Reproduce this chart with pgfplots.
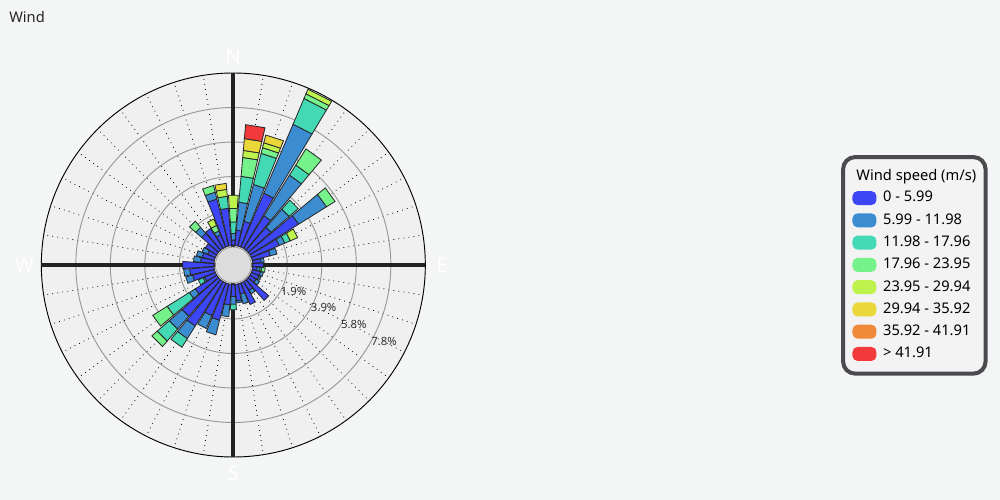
\documentclass[border=0pt]{standalone}
\usepackage{pgfplots}
\pgfplotsset{compat=1.18}
\usepackage{pgfplotstable}
\usepgfplotslibrary{polar}
\usepackage{fontspec}
\setmainfont{Noto Sans}

\definecolor{pagebg}{HTML}{F4F6F5}
\definecolor{disc}{HTML}{F0F0F0}
\definecolor{holefill}{HTML}{DCDCDC}
\definecolor{crossdark}{HTML}{222222}
\definecolor{legborder}{HTML}{4A4A4F}
\definecolor{legfill}{HTML}{F3F3F3}
\definecolor{wc1}{HTML}{3C46F5}
\definecolor{wc2}{HTML}{3C8CD2}
\definecolor{wc3}{HTML}{42D9B4}
\definecolor{wc4}{HTML}{76F28A}
\definecolor{wc5}{HTML}{BEF24C}
\definecolor{wc6}{HTML}{EAD83A}
\definecolor{wc7}{HTML}{F08A3A}
\definecolor{wc8}{HTML}{F23A3C}

% frequency (%) per direction and speed class
\pgfplotstableread{
dir s1 s2 s3 s4 s5 s6 s7 s8
0   0.31 0.38 0.65 0.76 0.75 0 0 0
9   0.88 1.58 1.47 1.07 0.40 0.67 0 0.79
18  1.44 2.15 1.81 0.33 0.29 0.45 0 0
27  3.31 4.23 1.58 0.29 0.28 0 0 0
36  2.18 2.71 0.67 1.08 0 0 0 0
45  1.72 1.36 0.68 0 0 0 0 0
54  3.25 1.86 0 0.57 0 0 0 0
63  1.72 0.34 0.34 0 0.45 0 0 0
72  1.05 0.39 0 0 0 0 0 0
81  0.48 0.17 0 0 0 0 0 0
90  0.59 0 0 0 0 0 0 0
99  0.25 0.17 0.09 0.20 0 0 0 0
108 0.48 0.17 0 0 0 0 0 0
117 0.48 0.11 0 0 0 0 0 0
126 0.42 0.23 0 0 0 0 0 0
135 1.55 0 0 0 0 0 0 0
144 0.59 0.23 0 0 0 0 0 0
153 1.33 0 0 0 0 0 0 0
162 0.59 0.57 0 0 0 0 0 0
171 0.93 0.12 0 0 0 0 0 0
180 0.69 0.43 0.32 0 0 0 0 0
189 1.16 0.68 0 0 0 0 0 0
198 2.12 0.85 0 0 0 0 0 0
207 2.01 0.79 0 0 0 0 0 0
216 2.97 0.84 0.57 0 0 0 0 0
225 2.74 0.96 0.90 0.40 0 0 0 0
234 1.44 0.40 1.47 0.96 0 0 0 0
243 0.65 0.11 0.29 0 0 0 0 0
252 1.27 0.40 0 0 0 0 0 0
261 1.38 0.34 0 0 0 0 0 0
270 1.76 0 0 0 0 0 0 0
279 0.76 0.40 0 0 0 0 0 0
288 0.71 0.34 0 0 0 0 0 0
297 0.48 0.34 0 0 0 0 0 0
306 0.76 0 0 0 0 0 0 0
315 1.27 0.45 0 0.46 0 0 0 0
324 1.33 0 0 0 0 0 0 0
333 0.76 0.23 0 0.34 0.39 0 0 0
342 2.74 0.40 0 0.39 0 0 0 0
351 2.12 0 0.68 0 0.39 0.34 0 0
}\rose

\begin{document}
\begin{tikzpicture}[x=1pt,y=1pt]
\path[use as bounding box, fill=pagebg] (0,0) rectangle (750,375);
\node[anchor=west, inner sep=0pt, font=\fontsize{11}{12}\selectfont, text=black!85] at (6.75,362) {Wind};

\begin{polaraxis}[
  at={(175pt,176.25pt)}, anchor=center,
  width=288pt, height=288pt, scale only axis,
  xmin=0, xmax=360, ymin=0, ymax=10.85,
  clip=false,
  axis background/.style={fill=disc},
  axis line style={black, line width=0.7pt},
  xtick={0,9,...,351}, xticklabels={},
  ytick={3.05,5,6.95,8.9}, yticklabels={},
  major tick length=0pt,
  grid=major,
  x grid style={black, line width=0.6pt, dash pattern=on 0.6pt off 3.2pt},
  y grid style={black!40, line width=0.7pt},
  every axis plot/.append style={mark=none},
  legend image code/.code={\fill[#1, rounded corners=2.6pt] (0pt,-3.75pt) rectangle (15pt,3.75pt);},
  legend cell align=left,
  legend style={at={(2.088,0.781)}, anchor=north west, draw=legborder,
    line width=3pt, rounded corners=9pt, fill=legfill, outer sep=0pt,
    inner xsep=7pt, inner ysep=9.5pt, column sep=5pt, row sep=6.2pt,
    font=\fontsize{11}{12}\selectfont,
    nodes={inner sep=0pt, text height=7.8pt, text depth=2pt}},
]
\addplot[forget plot, line width=3pt, crossdark] coordinates {(90,10.85) (270,10.85)};
\addplot[forget plot, line width=3pt, crossdark] coordinates {(0,10.85) (180,10.85)};

\pgfplotstablegetrowsof{\rose}
\pgfmathtruncatemacro\lastrow{\pgfplotsretval-1}
\pgfplotsforeachungrouped \i in {0,...,\lastrow}{%
  \pgfplotstablegetelem{\i}{dir}\of\rose
  \pgfmathsetmacro\aL{mod(450-\pgfplotsretval+4,360)}%
  \pgfplotstablegetelem{\i}{dir}\of\rose
  \pgfmathsetmacro\aR{mod(450-\pgfplotsretval-4,360)}%
  \def\base{1.1}%
  \pgfplotsforeachungrouped \j in {1,...,8}{%
    \pgfplotstablegetelem{\i}{s\j}\of\rose
    \ifdim\pgfplotsretval pt>0pt
      \pgfmathsetmacro\tip{\base+\pgfplotsretval}%
      \edef\temp{\noexpand\addplot[forget plot, fill=wc\j, draw=black!85, line width=0.6pt]
        coordinates {(\aL,\base) (\aR,\base) (\aR,\tip) (\aL,\tip)} -- cycle;}%
      \temp
      \let\base\tip
    \fi
  }%
}

\filldraw[fill=holefill, draw=black!45, line width=0.5pt] (axis cs:0,0) circle[radius=13.5pt];

\node[anchor=west, inner sep=0pt, font=\fontsize{8.5}{9}\selectfont, text=black!80] at (axis cs:331,3.05) {1.9\%};
\node[anchor=west, inner sep=0pt, font=\fontsize{8.5}{9}\selectfont, text=black!80] at (axis cs:331,5.0) {3.9\%};
\node[anchor=west, inner sep=0pt, font=\fontsize{8.5}{9}\selectfont, text=black!80] at (axis cs:331,6.95) {5.8\%};
\node[anchor=west, inner sep=0pt, font=\fontsize{8.5}{9}\selectfont, text=black!80] at (axis cs:331,8.9) {7.8\%};

\node[text=white, font=\bfseries\fontsize{15}{15}\selectfont] at (axis cs:90,11.8) {N};
\node[text=white, font=\bfseries\fontsize{15}{15}\selectfont] at (axis cs:0,11.8) {E};
\node[text=white, font=\bfseries\fontsize{15}{15}\selectfont] at (axis cs:270,11.8) {S};
\node[text=white, font=\bfseries\fontsize{15}{15}\selectfont] at (axis cs:180,11.8) {W};

\addlegendimage{legend image code/.code={}}
\addlegendentry{\hspace*{-20pt}Wind speed (m/s)}
\addlegendimage{wc1}\addlegendentry{0 - 5.99}
\addlegendimage{wc2}\addlegendentry{5.99 - 11.98}
\addlegendimage{wc3}\addlegendentry{11.98 - 17.96}
\addlegendimage{wc4}\addlegendentry{17.96 - 23.95}
\addlegendimage{wc5}\addlegendentry{23.95 - 29.94}
\addlegendimage{wc6}\addlegendentry{29.94 - 35.92}
\addlegendimage{wc7}\addlegendentry{35.92 - 41.91}
\addlegendimage{wc8}\addlegendentry{> 41.91}
\end{polaraxis}
\end{tikzpicture}
\end{document}
